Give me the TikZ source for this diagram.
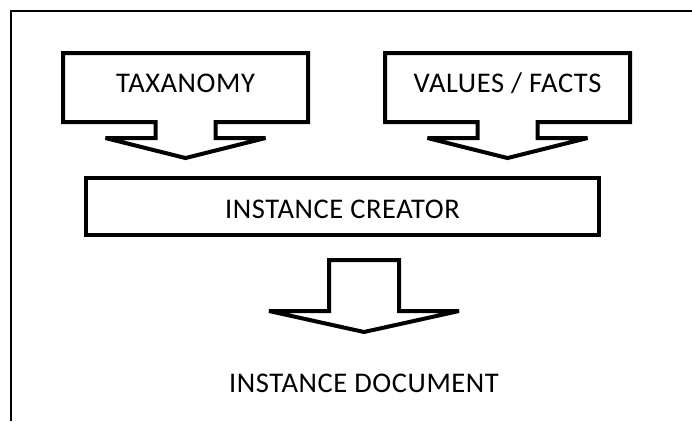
\documentclass[tikz,border=0pt]{standalone}
\usepackage{fontspec}
\setmainfont[LetterSpace=2]{Carlito}
\usetikzlibrary{positioning, calc, shapes.arrows}

\begin{document}
\begin{tikzpicture}[
    x=1pt, y=-1pt,
    font=\fontsize{28.5}{32}\selectfont,
    frame/.style={draw, line width=2.5pt},
    callout/.style={shape=arrow box, draw, line width=4pt, miter limit=2,
        outer sep=0pt, inner sep=0pt, text height=18pt, text depth=8pt,
        minimum width=245pt, minimum height=69pt,
        arrow box arrows={south:36pt}, arrow box shaft width=60pt,
        arrow box head extend=50pt, arrow box tip angle=152,
        arrow box head indent=0pt},
    stagebox/.style={draw, line width=4pt, outer sep=0pt, inner sep=0pt,
        text height=24pt, text depth=0pt, minimum width=513pt, minimum height=57pt},
    fatarrow/.style={draw, line width=4pt, miter limit=2},
    label/.style={inner sep=0pt, text height=18pt, text depth=0pt},
]
\useasboundingbox (0,0) rectangle (692,421);

% --- outer frame (only top and left edge show) ---
\draw[frame] (11,421) -- (11,11) -- (692,11);

% --- the two inputs ---
\node[callout] (tax) at (185.5,87.5) {TAXANOMY};
\node[callout, right=77pt of tax] (facts) {VALUES / FACTS};

% --- creator ---
\node[stagebox] (creator) at (342.5,206.5) {INSTANCE CREATOR};

% --- output ---
\node[label] (doc) at (364,383) {INSTANCE DOCUMENT};

% Arrow from creator down to the document
\draw[fatarrow] ($(doc |- creator.south)+(-35,25)$) -- ++(0,51) -- ++(-60,0)
    -- ++(95,21) -- ++(95,-21) -- ++(-60,0) -- ++(0,-51) -- cycle;

\end{tikzpicture}
\end{document}
